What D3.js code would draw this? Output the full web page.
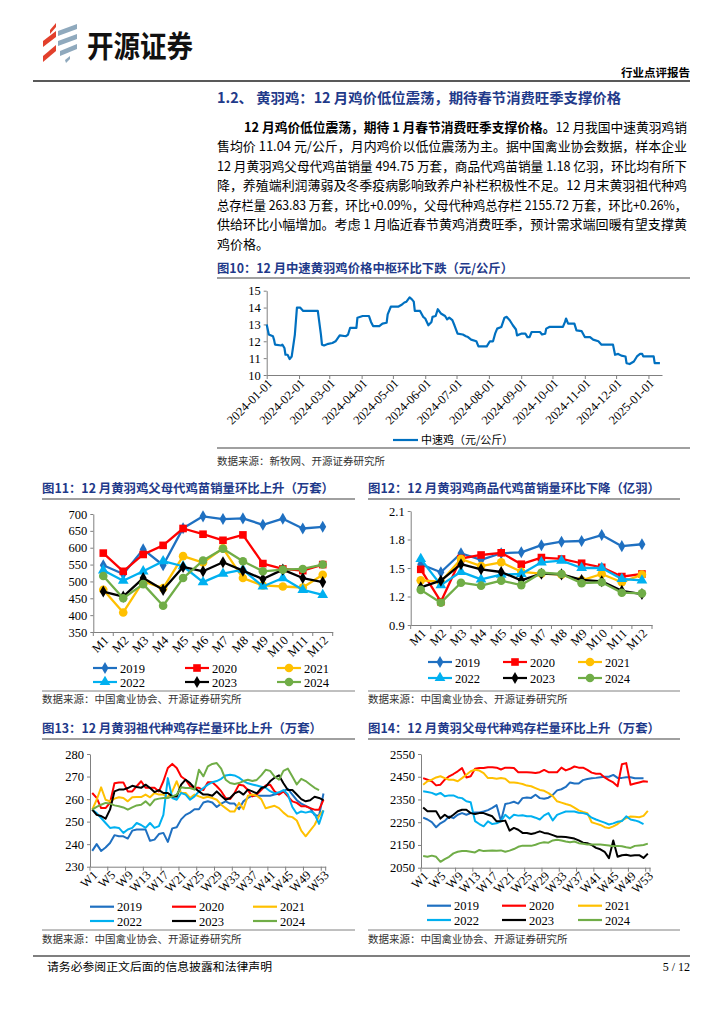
<!DOCTYPE html>
<html>
<head>
<meta charset="utf-8">
<script src="https://cdn.jsdelivr.net/npm/d3@7"></script>
<style>
  body { margin: 0; background: #fff; }
  svg { display: block; }
</style>
</head>
<body>
<svg id="page" width="724" height="1024"></svg>
<script>
// ---- data ----
// fig 10: medium-speed yellow-feather chicken price, yuan/kg
var priceSeries = [
  ["2024-01-01",13.0],["2024-01-03",12.4],["2024-01-07",12.3],["2024-01-08",12.1],["2024-01-09",11.8],
  ["2024-01-15",11.75],["2024-01-16",11.8],["2024-01-18",11.6],["2024-01-19",11.2],["2024-01-21",11.2],
  ["2024-01-23",10.95],["2024-01-25",11.1],["2024-01-28",12.4],["2024-01-30",14.0],["2024-02-02",14.0],
  ["2024-02-05",13.8],["2024-02-19",13.8],["2024-02-22",12.4],["2024-02-23",11.8],["2024-02-25",11.75],
  ["2024-02-29",11.85],["2024-03-04",11.9],["2024-03-07",12.0],["2024-03-11",12.35],["2024-03-17",12.3],
  ["2024-03-19",12.4],["2024-03-21",12.8],["2024-03-27",12.8],["2024-03-28",13.4],["2024-04-02",13.5],
  ["2024-04-08",13.5],["2024-04-10",13.15],["2024-04-12",12.9],["2024-04-18",12.9],["2024-04-21",13.05],
  ["2024-04-25",13.1],["2024-04-26",13.6],["2024-04-29",14.05],["2024-05-06",14.05],["2024-05-09",14.15],
  ["2024-05-12",14.3],["2024-05-14",14.35],["2024-05-17",14.6],["2024-05-19",14.5],["2024-05-21",14.35],
  ["2024-05-22",13.8],["2024-05-27",13.8],["2024-05-30",13.45],["2024-06-01",13.35],["2024-06-04",12.95],
  ["2024-06-07",13.15],["2024-06-08",13.45],["2024-06-11",13.5],["2024-06-13",13.9],["2024-06-16",13.65],
  ["2024-06-20",13.5],["2024-06-22",13.3],["2024-06-24",13.4],["2024-06-27",13.25],["2024-06-29",12.95],
  ["2024-07-02",12.45],["2024-07-07",12.4],["2024-07-10",12.3],["2024-07-12",12.25],["2024-07-15",12.1],
  ["2024-07-20",12.0],["2024-07-22",11.7],["2024-07-30",11.7],["2024-08-02",12.0],["2024-08-05",12.0],
  ["2024-08-07",12.45],["2024-08-09",12.75],["2024-08-13",12.85],["2024-08-16",13.4],["2024-08-18",13.45],
  ["2024-08-21",13.25],["2024-08-24",12.95],["2024-08-27",12.7],["2024-08-28",12.35],["2024-09-01",12.45],
  ["2024-09-05",12.45],["2024-09-07",12.25],["2024-09-09",12.25],["2024-09-11",12.55],["2024-09-19",12.55],
  ["2024-09-21",12.4],["2024-09-24",12.45],["2024-09-25",12.75],["2024-09-28",12.85],["2024-10-11",12.85],
  ["2024-10-13",13.15],["2024-10-14",13.35],["2024-10-16",13.05],["2024-10-22",13.05],["2024-10-24",12.65],
  ["2024-10-29",12.6],["2024-11-01",12.25],["2024-11-06",12.25],["2024-11-09",12.1],["2024-11-14",12.0],
  ["2024-11-17",11.8],["2024-11-28",11.8],["2024-11-30",11.2],["2024-12-03",11.25],["2024-12-06",11.15],
  ["2024-12-10",11.1],["2024-12-11",10.7],["2024-12-14",10.65],["2024-12-18",10.8],["2024-12-21",11.1],
  ["2024-12-24",11.25],["2024-12-26",11.25],["2024-12-27",11.1],["2025-01-06",11.1],["2025-01-07",10.7],
  ["2025-01-12",10.7]
];
var priceTicks = ["2024-01-01","2024-02-01","2024-03-01","2024-04-01","2024-05-01","2024-06-01","2024-07-01",
  "2024-08-01","2024-09-01","2024-10-01","2024-11-01","2024-12-01","2025-01-01"];

var years = ["2019", "2020", "2021", "2022", "2023", "2024"];
var months = ["M1","M2","M3","M4","M5","M6","M7","M8","M9","M10","M11","M12"];
var weekTicks = ["W1","W5","W9","W13","W17","W21","W25","W29","W33","W37","W41","W45","W49","W53"];

// fig 11: parent-stock chick sales, 10k sets
var parentChicks = [
  [548, 522, 595, 548, 658, 693, 685, 687, 668, 686, 657, 662],
  [584, 530, 580, 607, 657, 640, 622, 638, 553, 537, 532, 550],
  [475, 408, 500, 480, 575, 556, 598, 510, 488, 485, 482, 520],
  [533, 502, 530, 560, 545, 498, 523, 535, 485, 510, 475, 460],
  [470, 455, 510, 475, 543, 530, 557, 532, 507, 535, 510, 498],
  [516, 450, 492, 428, 510, 562, 597, 560, 530, 535, 537, 550]
];
// fig 12: commercial chick sales, 100m birds
var commercialChicks = [
  [1.54, 1.455, 1.655, 1.585, 1.655, 1.665, 1.74, 1.777, 1.784, 1.847, 1.73, 1.75],
  [1.486, 1.145, 1.60, 1.637, 1.66, 1.54, 1.61, 1.595, 1.55, 1.507, 1.41, 1.437],
  [1.37, 1.356, 1.595, 1.52, 1.56, 1.46, 1.44, 1.43, 1.37, 1.437, 1.35, 1.43],
  [1.595, 1.32, 1.46, 1.38, 1.43, 1.437, 1.56, 1.577, 1.50, 1.50, 1.384, 1.37],
  [1.297, 1.367, 1.54, 1.486, 1.458, 1.37, 1.44, 1.433, 1.374, 1.36, 1.26, 1.226],
  [1.27, 1.135, 1.345, 1.314, 1.367, 1.32, 1.45, 1.437, 1.34, 1.35, 1.24, 1.233]
];
// fig 13: grandparent stock inventory, weekly, 10k sets
var gpStock = [
  [237,240,237,238.5,240.5,244,243.5,243.5,242.5,246,246.5,246.5,246.5,241.5,242,244.5,245,241,247,247.5,
   251,253,254,255.5,255.5,258.5,259,258.5,256.5,258,259,258,258,255.5,259,260.5,261.5,261.5,261.5,261.5,
   261.5,262,262.5,263.5,264.5,262,259.5,258,257,256,253,252.5,262.5],
  [262.7,260.5,256,256,258.3,267,267.4,267.4,263.4,263.4,265.7,267.9,265,265,265,263.4,267.9,273.8,275.6,273.8,
   270,268.6,265.7,265,265,264,267.5,267.5,265.7,263.5,260.5,260,262.7,266.4,266,264,261.2,262,264,266,
   266.4,263.4,262,263.4,261.2,259,258.3,256.8,256.8,256,255.3,255.3,259.7],
  [255.3,259.7,265.2,259.7,259,260.2,260.8,260.5,259,260.8,260.9,260.9,262,260.8,262.7,262,262,261,263.4,267.9,
   262.7,262.7,260.5,262,261.2,260.5,261,260.5,259.7,257.5,256,254.5,254.5,258.3,255.5,261.5,262,261.5,260,255.9,
   256.5,257,256,254,252.4,252,250.5,246,243.5,246,248.5,252.5,255],
  [255.3,253.8,251.6,249.4,247.2,247.5,247.2,245,246.5,247.2,249.4,248.5,247.2,249.4,247.2,248,253,269.3,260.5,259.7,
   262.7,262,259.7,261.2,263.4,264.9,266.4,267.5,268,269,270.5,270.8,270.5,269.5,268,267,266.5,266,265.5,265,
   263.5,262.5,263,264,262,256.5,253.5,254.5,254,254.5,253.5,249,255],
  [255.3,253,252.5,251.3,255.3,263.4,264.2,264.2,264.9,265.9,265.4,265,266.4,264.9,263.1,264,262.7,262.7,261.2,261.2,
   266.4,268.6,267.1,264.9,263.4,262,262,261.5,263.4,261.5,259.7,260.5,262.5,263.4,262,264.2,263.4,262.5,264.9,265.5,
   267.9,269.5,270.5,267,264,264,262,260,259,259.5,261,260.5,259.5],
  [255.3,256.5,257.5,258.3,258,257.2,256.8,256.3,255.3,256.3,257.2,257.5,259,257.2,259.7,260.2,260.5,260.5,261.2,262,
   265.2,264.9,264.9,264.2,273,270.1,274.5,275.6,276,273.5,268.6,267.1,266.7,267.1,268,268.6,268,268.5,270.5,273,
   272.5,270,268.6,272.5,273.5,270,266.5,269,268,266.5,265,264]
];
// fig 14: parent stock inventory, weekly, 10k sets
var parentStock = [
  [2270,2262,2250,2228,2245,2256,2275,2268,2283,2290,2283,2290,2293,2293,2297,2303,2313,2325,2255,2330,
   2334,2340,2332,2356,2359,2357,2371,2356,2353,2358,2370,2390,2395,2405,2425,2420,2420,2435,2440,2443,
   2445,2448,2450,2450,2458,2445,2445,2448,2448,2443,2443,2443],
  [2444,2437,2430,2412,2415,2437,2452,2462,2474,2488,2447,2452,2485,2488,2488,2492,2492,2490,2482,2490,
   2490,2488,2470,2470,2470,2469,2466,2470,2480,2470,2470,2470,2490,2478,2485,2495,2490,2490,2480,2468,
   2463,2463,2447,2435,2425,2408,2505,2510,2415,2420,2425,2430,2428],
  [2415,2430,2437,2447,2452,2444,2437,2437,2430,2444,2459,2474,2481,2477,2466,2444,2444,2441,2444,2441,
   2425,2425,2422,2418,2411,2408,2400,2392,2388,2378,2365,2342,2336,2330,2325,2314,2302,2295,2290,2250,
   2244,2238,2228,2224,2232,2242,2258,2268,2275,2274,2272,2278,2300],
  [2386,2383,2379,2371,2379,2364,2368,2368,2359,2356,2342,2338,2255,2242,2232,2254,2242,2245,2254,2283,
   2266,2283,2279,2281,2276,2276,2270,2262,2280,2290,2258,2282,2290,2297,2297,2297,2292,2290,2285,2270,
   2262,2255,2248,2240,2245,2252,2255,2276,2262,2258,2252,2242],
  [2315,2298,2298,2298,2266,2283,2269,2283,2298,2305,2305,2290,2286,2290,2290,2283,2276,2254,2254,2257,
   2213,2225,2217,2203,2203,2198,2203,2210,2203,2200,2193,2186,2186,2185,2182,2178,2170,2160,2158,2150,
   2137,2131,2120,2092,2170,2098,2105,2107,2103,2105,2105,2093,2112],
  [2101,2098,2103,2098,2076,2088,2098,2113,2120,2123,2123,2120,2117,2128,2123,2125,2126,2125,2126,2120,
   2125,2132,2142,2147,2146,2146,2151,2158,2162,2160,2170,2173,2170,2165,2162,2165,2158,2155,2152,2152,
   2152,2152,2150,2148,2144,2146,2144,2140,2137,2146,2148,2150,2156]
];

// ---- styles ----
var yearColors = ["#1f70c1", "#ff0000", "#ffc000", "#00b0f0", "#000000", "#70ad47"];
var yearSymbols = [d3.symbolDiamond, d3.symbolSquare, d3.symbolCircle, d3.symbolTriangle, d3.symbolDiamond, d3.symbolCircle];
var symbolSizes = [42, 58, 58, 50, 42, 58];
var SERIF = "'Liberation Serif','Noto Sans CJK SC',serif";
var CJK = "'Noto Sans CJK SC','Liberation Serif',sans-serif";
var NAVY = "#1f3a8a";
var GRID = "#808080";

var svg = d3.select("#page");

function txt(x, y, s, size, opts) {
  opts = opts || {};
  var t = svg.append("text").attr("x", x).attr("y", y)
    .attr("font-family", opts.family || CJK).attr("font-size", size)
    .attr("fill", opts.fill || "#000")
    .attr("font-weight", opts.weight || "normal")
    .attr("text-anchor", opts.anchor || "start")
    .text(s);
  if (opts.len) t.attr("textLength", opts.len).attr("lengthAdjust", "spacingAndGlyphs");
  return t;
}
function hline(x1, x2, y, w, c) {
  svg.append("line").attr("x1", x1).attr("x2", x2).attr("y1", y).attr("y2", y)
    .attr("stroke", c || GRID).attr("stroke-width", w || 1);
}
function styleAxis(a, size) {
  a.attr("font-family", SERIF);
  a.select(".domain").attr("stroke", GRID);
  a.selectAll(".tick line").attr("stroke", GRID);
  a.selectAll("text").attr("font-family", SERIF).attr("font-size", size).attr("fill", "#000");
}
function tiltLabels(a, dx, dy) {
  a.selectAll(".tick text").attr("x", 0).attr("y", 0).attr("dy", "0.35em")
    .attr("text-anchor", "end").attr("transform", "translate(" + dx + "," + dy + ") rotate(-45)");
}

// ---- header ----
var logoRed = [
  [[50,30],[56,23],[56,27],[50,34]],
  [[43,41],[56,31],[56,37],[43,47]],
  [[43,56],[56,45],[56,51],[43,62]]
];
var logoGrey = [
  [[58,31],[77,24],[77,29],[58,36]],
  [[58,41],[77,34],[77,39],[58,46]],
  [[60,51],[77,44],[77,49],[60,56]],
  [[65,60],[70,56],[70,59],[66,63]]
];
logoRed.forEach(function(p) { svg.append("polygon").attr("points", p.join(" ")).attr("fill", "#e2402c"); });
logoGrey.forEach(function(p) { svg.append("polygon").attr("points", p.join(" ")).attr("fill", "#8fa9bd"); });
txt(87, 57, "开源证券", 30, {weight: "bold", len: 106, fill: "#111"});
txt(690, 77, "行业点评报告", 11.5, {anchor: "end", weight: "bold"});
hline(33, 690, 81, 1.6, "#222");

// ---- section text ----
txt(217, 103, "1.2、 黄羽鸡：12 月鸡价低位震荡，期待春节消费旺季支撑价格", 14, {weight: "bold", fill: NAVY, len: 404});

var paraLines = [
  "售均价 11.04 元/公斤，月内鸡价以低位震荡为主。据中国禽业协会数据，样本企业",
  "12 月黄羽鸡父母代鸡苗销量 494.75 万套，商品代鸡苗销量 1.18 亿羽，环比均有所下",
  "降，养殖端利润薄弱及冬季疫病影响致养户补栏积极性不足。12 月末黄羽祖代种鸡",
  "总存栏量 263.83 万套，环比+0.09%，父母代种鸡总存栏 2155.72 万套，环比+0.26%，",
  "供给环比小幅增加。考虑 1 月临近春节黄鸡消费旺季，预计需求端回暖有望支撑黄"
];
var first = svg.append("text").attr("x", 244).attr("y", 131.5)
  .attr("font-family", CJK).attr("font-size", 13)
  .attr("textLength", 443).attr("lengthAdjust", "spacingAndGlyphs");
first.append("tspan").attr("font-weight", "bold").text("12 月鸡价低位震荡，期待 1 月春节消费旺季支撑价格。");
first.append("tspan").text("12 月我国中速黄羽鸡销");
paraLines.forEach(function(s, i) {
  txt(217, 151 + i * 19.6, s, 13, {len: 470});
});
txt(217, 249, "鸡价格。", 13);

// ---- fig 10 ----
txt(217, 272.5, "图10：12 月中速黄羽鸡价格中枢环比下跌（元/公斤）", 12.5, {weight: "bold", fill: NAVY, len: 296});
hline(217, 690, 278, 1.5);

(function() {
  var parse = d3.timeParse("%Y-%m-%d");
  var pts = priceSeries.map(function(d) { return [parse(d[0]), d[1]]; });
  var x = d3.scaleTime().domain([parse("2024-01-01"), parse("2025-01-14")]).range([266.7, 662]);
  var y = d3.scaleLinear().domain([10, 15]).range([375, 290.7]);
  var g = svg.append("g");
  var ya = g.append("g").attr("transform", "translate(266.7,0)")
    .call(d3.axisLeft(y).ticks(5).tickSize(3).tickSizeOuter(0).tickPadding(3));
  styleAxis(ya, 12.5);
  var xa = g.append("g").attr("transform", "translate(0,375)")
    .call(d3.axisBottom(x).tickValues(priceTicks.map(parse))
      .tickFormat(function(d, i) { return priceTicks[i]; }).tickSize(4).tickSizeOuter(0));
  styleAxis(xa, 12.5);
  tiltLabels(xa, 3, 6);
  g.append("path").datum(pts)
    .attr("d", d3.line().x(function(d) { return x(d[0]); }).y(function(d) { return y(d[1]); }))
    .attr("fill", "none").attr("stroke", "#0070c0").attr("stroke-width", 2.2).attr("stroke-linejoin", "round");
  g.append("line").attr("x1", 393).attr("x2", 418).attr("y1", 440).attr("y2", 440)
    .attr("stroke", "#0070c0").attr("stroke-width", 2.2);
  txt(421, 444, "中速鸡（元/公斤）", 11);
})();
hline(217, 690, 448, 1.5);
txt(217, 465, "数据来源：新牧网、开源证券研究所", 10.5, {fill: "#333"});

// ---- yearly comparison charts ----
function legend(g, cfg, withMarkers) {
  years.forEach(function(yr, k) {
    var lx = cfg.cols[k % 3], ly = cfg.rows[Math.floor(k / 3)];
    g.append("line").attr("x1", lx).attr("x2", lx + 24).attr("y1", ly).attr("y2", ly)
      .attr("stroke", yearColors[k]).attr("stroke-width", 2.2);
    if (withMarkers) {
      g.append("path").attr("transform", "translate(" + (lx + 12) + "," + ly + ")")
        .attr("d", d3.symbol(yearSymbols[k], symbolSizes[k])).attr("fill", yearColors[k]);
    }
    g.append("text").attr("x", lx + 27).attr("y", ly + 4.5).attr("font-family", SERIF)
      .attr("font-size", 12.5).text(yr);
  });
}

function drawChart(cfg) {
  var g = svg.append("g");
  var x = d3.scaleBand().domain(cfg.cats).range([cfg.x0, cfg.x1]);
  var y = d3.scaleLinear().domain(cfg.domain).range([cfg.yb, cfg.yt]);
  var ya = g.append("g").attr("transform", "translate(" + cfg.x0 + ",0)")
    .call(d3.axisLeft(y).tickValues(cfg.ticks).tickFormat(cfg.fmt).tickSize(3).tickSizeOuter(0).tickPadding(3));
  styleAxis(ya, 12.5);
  var xa = g.append("g").attr("transform", "translate(0," + cfg.yb + ")")
    .call(d3.axisBottom(x).tickValues(cfg.labels).tickSize(0).tickSizeOuter(0));
  styleAxis(xa, 12.5);
  tiltLabels(xa, 3, 6);
  // category boundary ticks
  var marks = d3.range(0, cfg.cats.length + 1, cfg.every);
  if (marks[marks.length - 1] !== cfg.cats.length) marks.push(cfg.cats.length);
  g.selectAll(null).data(marks).join("line")
    .attr("x1", function(i) { return cfg.x0 + i * x.step(); })
    .attr("x2", function(i) { return cfg.x0 + i * x.step(); })
    .attr("y1", cfg.yb).attr("y2", cfg.yb + 4).attr("stroke", GRID);
  var cx = function(i) { return x(cfg.cats[i]) + x.bandwidth() / 2; };
  var line = d3.line().x(function(d, i) { return cx(i); }).y(function(d) { return y(d); });
  cfg.data.forEach(function(vals, k) {
    g.append("path").datum(vals).attr("d", line).attr("fill", "none")
      .attr("stroke", yearColors[k]).attr("stroke-width", cfg.markers ? 2.3 : 2)
      .attr("stroke-linejoin", "round");
    if (cfg.markers) {
      g.selectAll(null).data(vals).join("path")
        .attr("transform", function(d, i) { return "translate(" + cx(i) + "," + y(d) + ")"; })
        .attr("d", d3.symbol(yearSymbols[k], symbolSizes[k])).attr("fill", yearColors[k]);
    }
  });
  legend(g, cfg.legend, cfg.markers);
}

var weeks = d3.range(1, 54).map(function(i) { return "W" + i; });

// fig 11
txt(42, 492.5, "图11：12 月黄羽鸡父母代鸡苗销量环比上升（万套）", 12.5, {weight: "bold", fill: NAVY, len: 292});
hline(42, 355, 499, 1.5);
drawChart({cats: months, labels: months, every: 1, x0: 93.3, x1: 332.7, yt: 514, yb: 632,
  domain: [350, 700], ticks: d3.range(350, 701, 50), fmt: d3.format("d"), data: parentChicks, markers: true,
  legend: {cols: [93, 185, 277], rows: [668, 682]}});
hline(42, 355, 691, 1);
txt(42, 702.5, "数据来源：中国禽业协会、开源证券研究所", 10.5, {fill: "#333"});

// fig 12
txt(368, 492.5, "图12：12 月黄羽鸡商品代鸡苗销量环比下降（亿羽）", 12.5, {weight: "bold", fill: NAVY, len: 292});
hline(368, 680, 499, 1.5);
drawChart({cats: months, labels: months, every: 1, x0: 410.7, x1: 652, yt: 511, yb: 625,
  domain: [0.9, 2.1], ticks: [0.9, 1.2, 1.5, 1.8, 2.1], fmt: d3.format(".1f"), data: commercialChicks, markers: true,
  legend: {cols: [428, 503, 578], rows: [662, 678]}});
hline(368, 680, 691, 1);
txt(368, 702.5, "数据来源：中国禽业协会、开源证券研究所", 10.5, {fill: "#333"});

// fig 13
txt(42, 732.5, "图13：12 月黄羽祖代种鸡存栏量环比上升（万套）", 12.5, {weight: "bold", fill: NAVY, len: 280});
hline(42, 355, 739, 1.5);
drawChart({cats: weeks, labels: weekTicks, every: 4, x0: 90, x1: 325.7, yt: 754, yb: 866.7,
  domain: [230, 280], ticks: d3.range(230, 281, 10), fmt: d3.format("d"), data: gpStock, markers: false,
  legend: {cols: [90, 172, 253], rows: [906.7, 921]}});
hline(42, 355, 930, 1);
txt(42, 943, "数据来源：中国禽业协会、开源证券研究所", 10.5, {fill: "#333"});

// fig 14
txt(368, 732.5, "图14：12 月黄羽父母代种鸡存栏量环比上升（万套）", 12.5, {weight: "bold", fill: NAVY, len: 292});
hline(368, 680, 739, 1.5);
drawChart({cats: weeks, labels: weekTicks, every: 4, x0: 421, x1: 650, yt: 754, yb: 867.7,
  domain: [2050, 2550], ticks: d3.range(2050, 2551, 100), fmt: d3.format("d"), data: parentStock, markers: false,
  legend: {cols: [427, 502, 578], rows: [905.7, 920]}});
hline(368, 680, 930, 1);
txt(368, 943, "数据来源：中国禽业协会、开源证券研究所", 10.5, {fill: "#333"});

// ---- footer ----
hline(33, 690, 956, 2, "#7f7f7f");
txt(47, 971, "请务必参阅正文后面的信息披露和法律声明", 11, {len: 225});
txt(690, 971, "5 / 12", 12, {anchor: "end", family: SERIF});
</script>
</body>
</html>
